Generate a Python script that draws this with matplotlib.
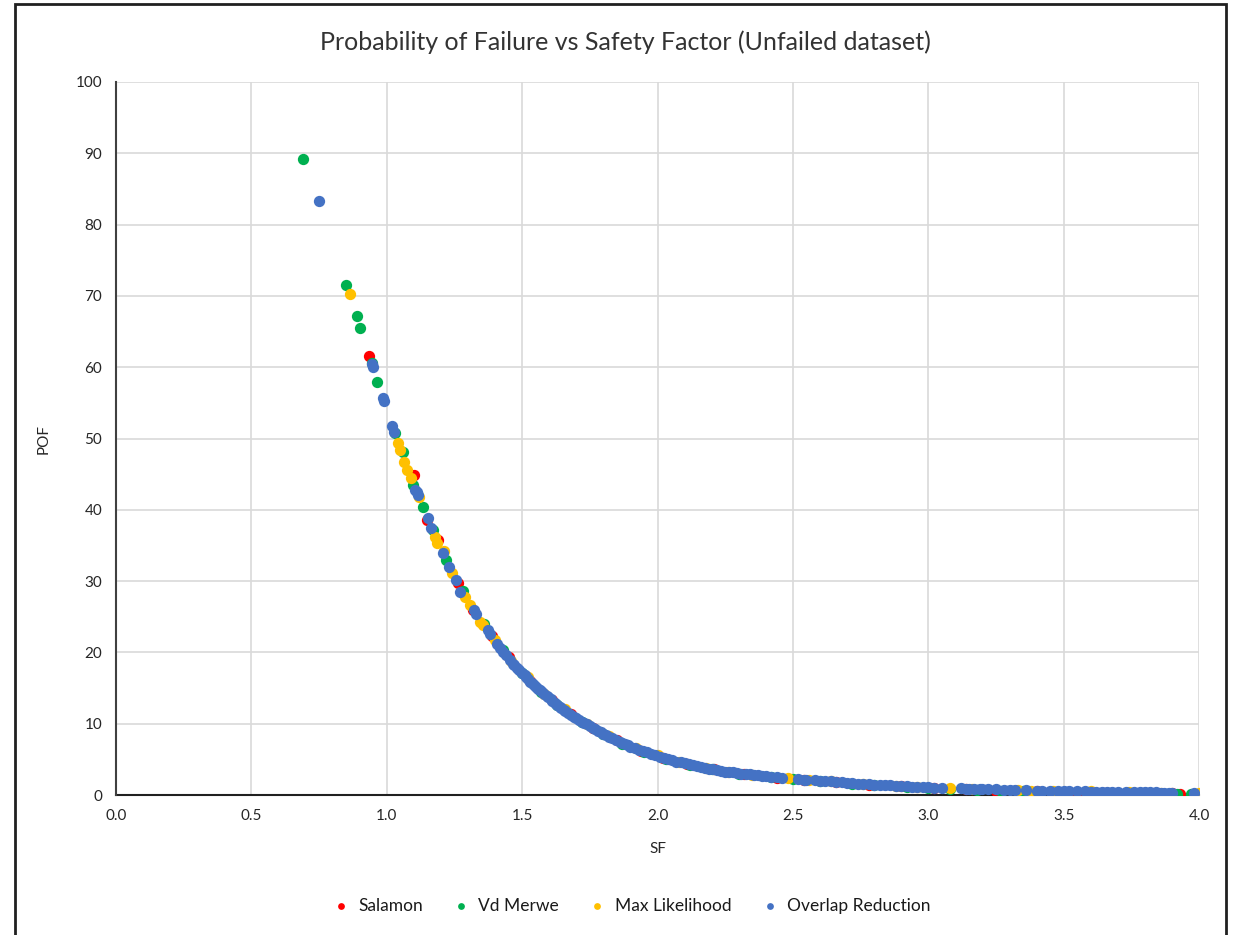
import matplotlib.pyplot as plt
from matplotlib.patches import Rectangle

# data (SF, POF)
salamon_sf = [0.935, 1.1, 1.149, 1.19, 1.263, 1.32, 1.39, 1.45, 1.53, 1.61, 1.68, 1.76, 1.85,
              1.94, 2.02, 2.11, 2.21, 2.32, 2.44, 2.54, 2.66, 2.78, 2.9, 3.02, 3.14, 3.25,
              3.4, 3.55, 3.65, 3.9, 3.93]
salamon_pof = [61.6, 44.9, 38.6, 35.8, 29.7, 26.0, 22.3, 19.3, 16.0, 13.3, 11.3, 9.4, 7.7,
               6.2, 5.2, 4.3, 3.6, 2.9, 2.4, 2.1, 1.8, 1.45, 1.2, 1.0, 0.8, 0.6,
               0.55, 0.3, 0.3, 0.25, 0.2]

merwe_sf = [0.69, 0.85, 0.89, 0.90, 0.945, 0.965, 1.03, 1.06, 1.097, 1.134, 1.17, 1.22, 1.28,
            1.36, 1.43, 1.50, 1.57, 1.63, 1.72, 1.80, 1.87, 1.95, 2.03, 2.12, 2.2, 2.3, 2.42,
            2.5, 2.6, 2.72, 2.8, 2.92, 3.0, 3.08, 3.18, 3.27, 3.35, 3.5, 3.6, 3.7, 3.78, 3.88,
            3.92, 3.97]
merwe_pof = [89.2, 71.6, 67.2, 65.5, 60.6, 57.9, 50.8, 48.1, 43.5, 40.4, 37.2, 33.0, 28.6,
             24.0, 20.4, 17.1, 14.5, 12.6, 10.3, 8.5, 7.2, 6.0, 5.1, 4.2, 3.6, 3.0, 2.5,
             2.2, 1.9, 1.6, 1.4, 1.1, 1.0, 0.85, 0.75, 0.6, 0.6, 0.4, 0.3, 0.25, 0.2, 0.15,
             0.1, 0.2]

maxlik_sf = [0.865, 1.04, 1.05, 1.064, 1.075, 1.09, 1.12, 1.178, 1.186, 1.21, 1.241, 1.29,
             1.307, 1.344, 1.355, 1.40, 1.46, 1.52, 1.58, 1.66, 1.74, 1.82, 1.92, 2.0, 2.08,
             2.18, 2.26, 2.35, 2.48, 2.56, 2.64, 2.76, 2.88, 2.96, 3.08, 3.16, 3.33, 3.38,
             3.46, 3.6, 3.74, 3.86, 4.0]
maxlik_pof = [70.2, 49.4, 48.4, 46.7, 45.6, 44.5, 41.8, 36.2, 35.3, 34.2, 31.1, 27.8,
              26.6, 24.3, 23.8, 21.8, 18.8, 16.5, 14.2, 12.0, 10.0, 8.3, 6.6, 5.6, 4.7,
              3.8, 3.3, 2.8, 2.4, 2.1, 1.9, 1.6, 1.3, 1.15, 0.95, 0.9, 0.75, 0.6,
              0.55, 0.5, 0.4, 0.35, 0.3]

overlap_sf = [0.75, 0.945, 0.95, 0.985, 0.99, 1.02, 1.025, 1.104, 1.11, 1.115, 1.152, 1.163,
              1.208, 1.23, 1.256, 1.27, 1.322, 1.33, 1.374, 1.38, 1.407, 1.42, 1.44, 1.455,
              1.47, 1.49, 1.51, 1.52, 1.53, 1.545, 1.56, 1.575, 1.59, 1.605, 1.62, 1.64,
              1.655, 1.67, 1.69, 1.71, 1.73, 1.75, 1.77, 1.79, 1.81, 1.83, 1.86, 1.88, 1.90,
              1.93, 1.96, 1.99, 2.01, 2.04, 2.07, 2.10, 2.13, 2.16, 2.19, 2.22, 2.25, 2.28,
              2.31, 2.34, 2.37, 2.40, 2.44, 2.46, 2.52, 2.55, 2.58, 2.62, 2.66, 2.70, 2.74,
              2.78, 2.82, 2.86, 2.90, 2.94, 2.98, 3.02, 3.05, 3.12, 3.15, 3.19, 3.22, 3.25,
              3.28, 3.36, 3.42, 3.45, 3.48, 3.52, 3.55, 3.58, 3.62, 3.66, 3.70, 3.73, 3.76,
              3.80, 3.84, 3.87, 3.90, 3.98,
              1.43, 1.465, 1.48, 1.50, 1.515, 1.535, 1.55, 1.565, 1.58, 1.595, 1.61, 1.63,
              1.645, 1.66, 1.68, 1.70, 1.72, 1.74, 1.76, 1.78, 1.80, 1.82, 1.845, 1.87, 1.89,
              1.915, 1.945, 1.975, 2.025, 2.055, 2.085, 2.115, 2.145, 2.175, 2.205, 2.235,
              2.265, 2.295, 2.325, 2.355, 2.385, 2.42, 2.54, 2.60, 2.64, 2.68, 2.72, 2.76,
              2.80, 2.84, 2.88, 2.92, 2.96, 3.0, 3.14, 3.17, 3.20, 3.30, 3.32, 3.40, 3.50,
              3.60, 3.64, 3.68, 3.78, 3.82, 3.86, 3.89]
overlap_pof = [83.3, 60.4, 60.0, 55.7, 55.3, 51.8, 50.9, 42.8, 42.5, 42.1, 38.8, 37.4,
               33.9, 32.0, 30.2, 28.5, 25.9, 25.4, 23.1, 22.6, 21.2, 20.6, 19.6, 18.9,
               18.2, 17.5, 16.8, 16.3, 15.9, 15.4, 14.9, 14.4, 13.9, 13.4, 12.9, 12.3,
               11.9, 11.5, 11.0, 10.5, 10.1, 9.7, 9.2, 8.8, 8.4, 8.0, 7.4, 7.1, 6.8,
               6.3, 6.0, 5.6, 5.3, 5.0, 4.7, 4.5, 4.2, 3.9, 3.7, 3.5, 3.3, 3.2,
               3.0, 2.9, 2.8, 2.6, 2.5, 2.4, 2.2, 2.1, 2.05, 1.95, 1.85, 1.7, 1.6,
               1.5, 1.4, 1.35, 1.25, 1.15, 1.1, 1.05, 1.0, 0.92, 0.9, 0.84, 0.8, 0.78,
               0.74, 0.68, 0.6, 0.56, 0.54, 0.52, 0.5, 0.5, 0.46, 0.43, 0.42, 0.41, 0.4,
               0.38, 0.36, 0.35, 0.32, 0.3,
               20.1, 18.4, 17.8, 17.1, 16.6, 15.7, 15.2, 14.7, 14.2, 13.7, 13.2, 12.6,
               12.2, 11.8, 11.2, 10.8, 10.3, 9.9, 9.4, 9.0, 8.6, 8.2, 7.7, 7.3, 7.0,
               6.6, 6.2, 5.8, 5.2, 4.9, 4.6, 4.35, 4.05, 3.8, 3.6, 3.4,
               3.25, 3.1, 2.95, 2.85, 2.7, 2.55, 2.15, 2.0, 1.9, 1.8, 1.65, 1.55,
               1.45, 1.38, 1.3, 1.2, 1.12, 1.08, 0.91, 0.87, 0.82, 0.72, 0.7, 0.62, 0.53,
               0.48, 0.45, 0.43, 0.39, 0.37, 0.35, 0.33]

series = [
    ("Salamon", salamon_sf, salamon_pof, "#ff0000"),
    ("Vd Merwe", merwe_sf, merwe_pof, "#00b050"),
    ("Max Likelihood", maxlik_sf, maxlik_pof, "#ffc000"),
    ("Overlap Reduction", overlap_sf, overlap_pof, "#4472c4"),
]

plt.rcParams['font.family'] = ['Lato', 'DejaVu Sans']

fig = plt.figure(figsize=(12.34, 9.35), dpi=100)
ax = fig.add_axes([0.094, 0.1497, 0.8777, 0.7626])

for name, xs, ys, col in series:
    ax.scatter(xs, ys, s=66, color=col, label=name, linewidths=0, zorder=3)

ax.set_xlim(0, 4)
ax.set_ylim(0, 100)
ax.set_xticks([0, 0.5, 1.0, 1.5, 2.0, 2.5, 3.0, 3.5, 4.0])
ax.set_xticklabels(["0.0", "0.5", "1.0", "1.5", "2.0", "2.5", "3.0", "3.5", "4.0"])
ax.set_yticks(range(0, 101, 10))
ax.grid(True, color="#d9d9d9", linewidth=1.2, zorder=0)
ax.set_axisbelow(True)
ax.tick_params(length=0, labelsize=11, colors="#262626", pad=10)
for s in ["top", "right"]:
    ax.spines[s].set_visible(False)
ax.spines["left"].set_color("#404040")
ax.spines["bottom"].set_color("#202020")
ax.spines["left"].set_linewidth(1.5)
ax.spines["bottom"].set_linewidth(1.5)
ax.spines["bottom"].set_zorder(2)

ax.set_xlabel("SF", fontsize=11, color="#262626", labelpad=14)
ax.set_ylabel("POF", fontsize=11, color="#262626", labelpad=18)

fig.text(0.507, 0.955, "Probability of Failure vs Safety Factor (Unfailed dataset)",
         ha="center", va="center", fontsize=18, color="#333333")

fig.legend(loc="center", bbox_to_anchor=(0.508, 0.031), ncol=4, frameon=False,
           fontsize=12.5, markerscale=0.6, handletextpad=0.0, columnspacing=1.2,
           labelcolor="#1a1a1a")

# outer chart border
fig.patches.append(Rectangle((15 / 1234, -0.05), (1226 - 15) / 1234, 1.05 - 4 / 935,
                             transform=fig.transFigure, fill=False,
                             edgecolor="#202020", linewidth=2))

fig.savefig("out.png", dpi=100)
